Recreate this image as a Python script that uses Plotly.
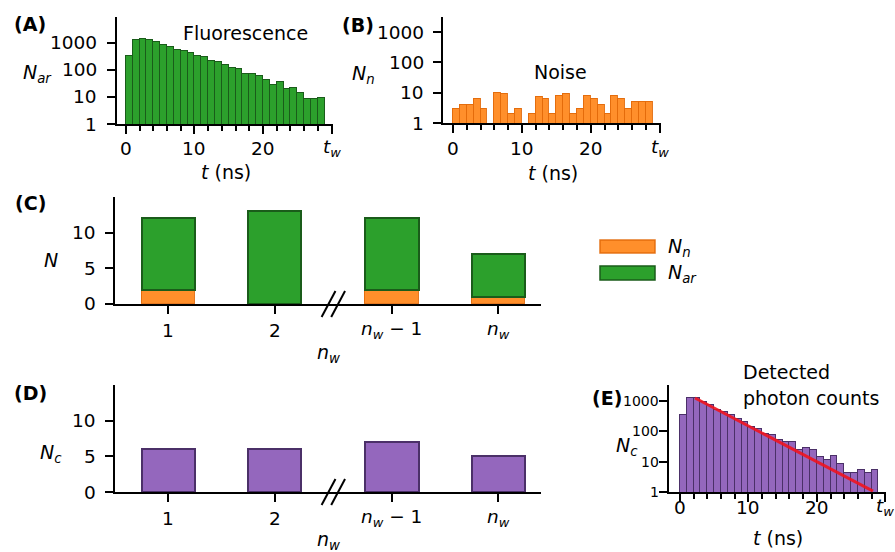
import math
import plotly.graph_objects as go

W, H = 895, 552
FONT = "DejaVu Sans"
FS = 19
TFS = 18.5

# ---------------- data ----------------
t_bins = list(range(29))  # left edges of 1-ns time bins
fluorescence = [340, 1250, 1450, 1250, 1050, 820, 730, 550, 490, 425, 330, 295, 220, 190,
                148, 118, 110, 70, 72, 58, 43, 28, 35, 20, 22, 14, 8.5, 8.5, 9.5]
noise = [3, 4, 4, 6, 3, 0, 10, 9, 2, 3, 0, 2, 7, 6, 2, 8, 9, 2, 3, 8, 6, 4, 2, 8, 6, 3, 5, 5, 5]
detected = [355, 1260, 1260, 930, 720, 515, 435, 335, 260, 203, 138, 117, 84, 74,
            53, 44, 44, 24, 29, 24, 14, 11.6, 16, 8.2, 4.2, 4.2, 5.5, 4.2, 5.5]
fit_t = [2.2, 28.2]
fit_counts = [1260, 1.07]

window_labels = ["1", "2", "<i>n<sub>w</sub></i> − 1", "<i>n<sub>w</sub></i>"]
window_pos = [0, 1, 2.1, 3.1]
N_noise = [2, 0, 2, 1]
N_ar = [10, 13, 10, 6]
N_c = [6, 6, 7, 5]

t_ticks = [0, 10, 20, 30]
t_ticktext = ["0", "10", "20", "<i>t<sub>w</sub></i>"]
log_ticks = [1, 10, 100, 1000]
log_ticktext = ["1", "10", "100", "1000"]
lin_ticks = [0, 5, 10]
lin_ticktext = ["0", "5", "10"]

GREEN, GREEN_E = "#2ca02c", "#1a5c1a"
ORANGE, ORANGE_E = "rgba(255,127,14,0.88)", "rgba(225,105,10,0.9)"
PURPLE, PURPLE_E = "#9467bd", "#4b3068"


def px(p):
    return p / W


def py(p):
    return 1 - p / H


fig = go.Figure()

# (A) fluorescence
fig.add_trace(go.Bar(x=t_bins, y=fluorescence, width=1, offset=0,
                     marker=dict(color=GREEN, line=dict(color=GREEN_E, width=1.5)),
                     xaxis="x", yaxis="y", showlegend=False))
# (B) noise
fig.add_trace(go.Bar(x=t_bins, y=[v if v > 0 else None for v in noise], width=1, offset=0,
                     marker=dict(color=ORANGE, line=dict(color=ORANGE_E, width=1.5)),
                     xaxis="x2", yaxis="y2", showlegend=False))
# (C) stacked
fig.add_trace(go.Bar(x=window_pos, y=N_noise, width=0.5,
                     marker=dict(color=ORANGE, line=dict(color=ORANGE_E, width=1.5)),
                     xaxis="x3", yaxis="y3", showlegend=False))
fig.add_trace(go.Bar(x=window_pos, y=N_ar, width=0.5,
                     marker=dict(color=GREEN, line=dict(color=GREEN_E, width=2)),
                     xaxis="x3", yaxis="y3", showlegend=False))
# (D)
fig.add_trace(go.Bar(x=window_pos, y=N_c, width=0.5,
                     marker=dict(color=PURPLE, line=dict(color=PURPLE_E, width=2)),
                     xaxis="x4", yaxis="y4", showlegend=False))
# (E)
fig.add_trace(go.Bar(x=t_bins, y=detected, width=1, offset=0,
                     marker=dict(color=PURPLE, line=dict(color=PURPLE_E, width=1.5)),
                     xaxis="x5", yaxis="y5", showlegend=False))
fig.add_trace(go.Scatter(x=fit_t, y=fit_counts, mode="lines", line=dict(color="rgba(240,20,30,0.9)", width=3),
                         xaxis="x5", yaxis="y5", showlegend=False))

axis_common = dict(showline=True, linecolor="black", linewidth=2, ticks="outside", ticklen=8, tickwidth=2,
                   tickcolor="black", showgrid=False, zeroline=False, showticklabels=False, fixedrange=True)


def t_axis(x0, x1, rng, anchor):
    return dict(axis_common, domain=[px(x0), px(x1)], range=rng, anchor=anchor, tickmode="array",
                tickvals=t_ticks,
                minor=dict(tickmode="linear", tick0=0, dtick=2, ticks="outside", ticklen=4.5, tickwidth=1.5,
                           tickcolor="black"))


def log_axis(y0, y1, top, anchor):
    return dict(axis_common, type="log", domain=[py(y1), py(y0)], range=[0, top], anchor=anchor,
                tickmode="array", tickvals=log_ticks)


def win_axis(x0, x1, anchor):
    return dict(axis_common, domain=[px(x0), px(x1)], range=[-0.5, 3.5], anchor=anchor, tickmode="array",
                tickvals=window_pos)


def lin_axis(y0, y1, anchor):
    return dict(axis_common, domain=[py(y1), py(y0)], range=[0, 15], anchor=anchor, tickmode="array",
                tickvals=lin_ticks)


fig.update_layout(
    width=W, height=H, margin=dict(l=0, r=0, t=0, b=0), plot_bgcolor="white", paper_bgcolor="white",
    barmode="stack", bargap=0,
    xaxis=t_axis(117, 333, [-1.3, 30.2], "y"),
    yaxis=log_axis(17, 124, 3.96, "x"),
    xaxis2=t_axis(443, 661, [-1.46, 30.2], "y2"),
    yaxis2=log_axis(17, 123, 3.5, "x2"),
    xaxis3=win_axis(115, 541, "y3"),
    yaxis3=lin_axis(197, 304, "x3"),
    xaxis4=win_axis(115, 541, "y4"),
    yaxis4=lin_axis(385, 492, "x4"),
    xaxis5=t_axis(669, 886, [-1.6, 30.1], "y5"),
    yaxis5=log_axis(385, 492, 3.53, "x5"),
)


def ann(text, x, y, xanchor="center", size=FS):
    fig.add_annotation(text=text, x=px(x), y=py(y), xref="paper", yref="paper", showarrow=False,
                       xanchor=xanchor, yanchor="middle", font=dict(family=FONT, size=size, color="black"))


def xticklabels(xref, vals, texts, y_px, size=TFS):
    for v, t in zip(vals, texts):
        fig.add_annotation(text=t, x=v, y=py(y_px), xref=xref, yref="paper", showarrow=False,
                           xanchor="center", yanchor="middle", font=dict(family=FONT, size=size, color="black"))


def yticklabels(yref, vals, texts, x_right, log=False, size=TFS):
    for v, t in zip(vals, texts):
        fig.add_annotation(text=t, x=px(x_right), y=math.log10(v) if log else v, xref="paper", yref=yref,
                           showarrow=False, xanchor="right", yanchor="middle",
                           font=dict(family=FONT, size=size, color="black"))


# tick labels
xticklabels("x", t_ticks, t_ticktext, 148)
yticklabels("y", log_ticks, log_ticktext, 99, log=True)
xticklabels("x2", t_ticks, t_ticktext, 148)
yticklabels("y2", log_ticks, log_ticktext, 426, log=True)
xticklabels("x3", window_pos, window_labels, 330)
yticklabels("y3", lin_ticks, lin_ticktext, 98)
xticklabels("x4", window_pos, window_labels, 518)
yticklabels("y4", lin_ticks, lin_ticktext, 98)
xticklabels("x5", t_ticks, t_ticktext, 507)
yticklabels("y5", log_ticks, log_ticktext, 661, log=True, size=14)

# panel labels
ann("<b>(A)</b>", 30, 24)
ann("<b>(B)</b>", 358, 25)
ann("<b>(C)</b>", 30, 203)
ann("<b>(D)</b>", 30, 393)
ann("<b>(E)</b>", 607, 398)
# axis titles
ann("<i>N<sub>ar</sub></i>", 37, 73)
ann("<i>t</i> (ns)", 226, 172)
ann("<i>N<sub>n</sub></i>", 363, 74)
ann("<i>t</i> (ns)", 553, 173)
ann("<i>N</i>", 51, 260)
ann("<i>n<sub>w</sub></i>", 328, 353)
ann("<i>N<sub>c</sub></i>", 51, 453)
ann("<i>n<sub>w</sub></i>", 328, 540)
ann("<i>N<sub>c</sub></i>", 627, 446)
ann("<i>t</i> (ns)", 778, 538)
# in-panel texts
ann("Fluorescence", 245, 33)
ann("Noise", 560, 72)
ann("Detected", 741, 372, xanchor="left")
ann("photon counts", 741, 398, xanchor="left")

# legend (manual)
fig.add_shape(type="rect", xref="paper", yref="paper", x0=px(600), x1=px(655), y0=py(253), y1=py(240),
              fillcolor=ORANGE, line=dict(color=ORANGE_E, width=1.5))
fig.add_shape(type="rect", xref="paper", yref="paper", x0=px(600), x1=px(655), y0=py(280), y1=py(266),
              fillcolor=GREEN, line=dict(color=GREEN_E, width=1.5))
ann("<i>N<sub>n</sub></i>", 666, 247, xanchor="left")
ann("<i>N<sub>ar</sub></i>", 666, 273, xanchor="left")

# axis break marks
for xa, ya in (("x3", 304), ("x4", 492)):
    for dx in (-0.045, 0.045):
        cx = 1.55 + dx
        fig.add_shape(type="line", xref=xa, yref="paper", x0=cx - 0.065, x1=cx + 0.065,
                      y0=py(ya + 13), y1=py(ya - 13), line=dict(color="black", width=2))

fig.write_html("out.html", config={"displayModeBar": False},
               post_script="document.body.style.margin='0px';document.body.style.overflow='hidden';")
